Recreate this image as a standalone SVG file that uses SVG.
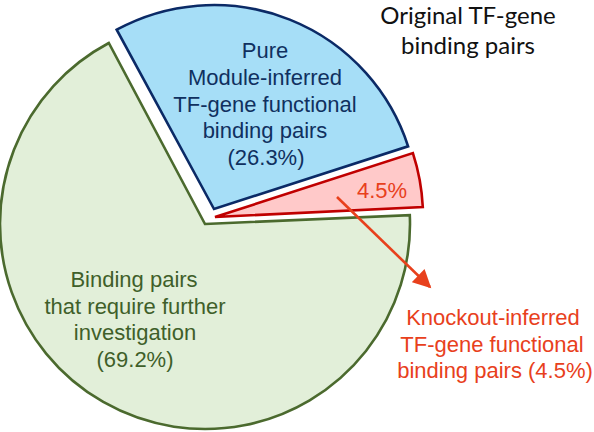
<svg xmlns="http://www.w3.org/2000/svg" width="594" height="432" viewBox="0 0 594 432">
<style>
text{font-family:"Liberation Sans",Arial,sans-serif;font-size:22px;text-anchor:middle}
.g{fill:#e2efd9;stroke:#4b6a2e;stroke-width:2.6;stroke-linejoin:miter}
.b{fill:#a6def7;stroke:#0b2a66;stroke-width:2.6}
.r{fill:#ffc9c9;stroke:#c00000;stroke-width:2.6}
.gt{fill:#3f5f2a}.bt{fill:#10305f}.rt{fill:#e8401c}
.title{font-family:Lato,"Open Sans",sans-serif;font-size:24px;fill:#111}
</style>
<defs>
<marker id="ah" viewBox="0 0 10 10" refX="9" refY="5" markerWidth="7.5" markerHeight="7" orient="auto" markerUnits="strokeWidth">
<path d="M0,0 L10,5 L0,10 Z" fill="#e8401c"/>
</marker>
</defs>
<rect width="594" height="432" fill="#fff"/>
<g id="green">
<path class="g" d="M205,224 L409.8,215.1 A205,205 0 1,1 108.8,43 Z"/>
<text class="gt" x="134" y="287">Binding pairs</text>
<text class="gt" x="135" y="313.5">that require further</text>
<text class="gt" x="135" y="340">investigation</text>
<text class="gt" x="135" y="367">(69.2%)</text>
</g>
<g id="blue">
<path class="b" d="M214,209 L116.7,29.7 A204,204 0 0,1 408.1,146.3 Z"/>
<text class="bt" x="265" y="58">Pure</text>
<text class="bt" x="265" y="85">Module-inferred</text>
<text class="bt" x="265" y="111.5">TF-gene functional</text>
<text class="bt" x="265" y="138">binding pairs</text>
<text class="bt" x="266" y="165">(26.3%)</text>
</g>
<g id="red">
<path class="r" d="M215,217 L412.9,153.1 A208,208 0 0,1 422.8,207 Z"/>
<text class="rt" x="382" y="198">4.5%</text>
</g>
<g id="title">
<text class="title" x="468" y="24">Original TF-gene</text>
<text class="title" x="468" y="54">binding pairs</text>
</g>
<g id="knockout">
<text class="rt" x="493" y="325">Knockout-inferred</text>
<text class="rt" x="492" y="352">TF-gene functional</text>
<text class="rt" x="495" y="378">binding pairs (4.5%)</text>
</g>
<g id="connectors">
<line x1="337" y1="197" x2="430" y2="287" stroke="#e8401c" stroke-width="2.6" marker-end="url(#ah)"/>
</g>
</svg>
